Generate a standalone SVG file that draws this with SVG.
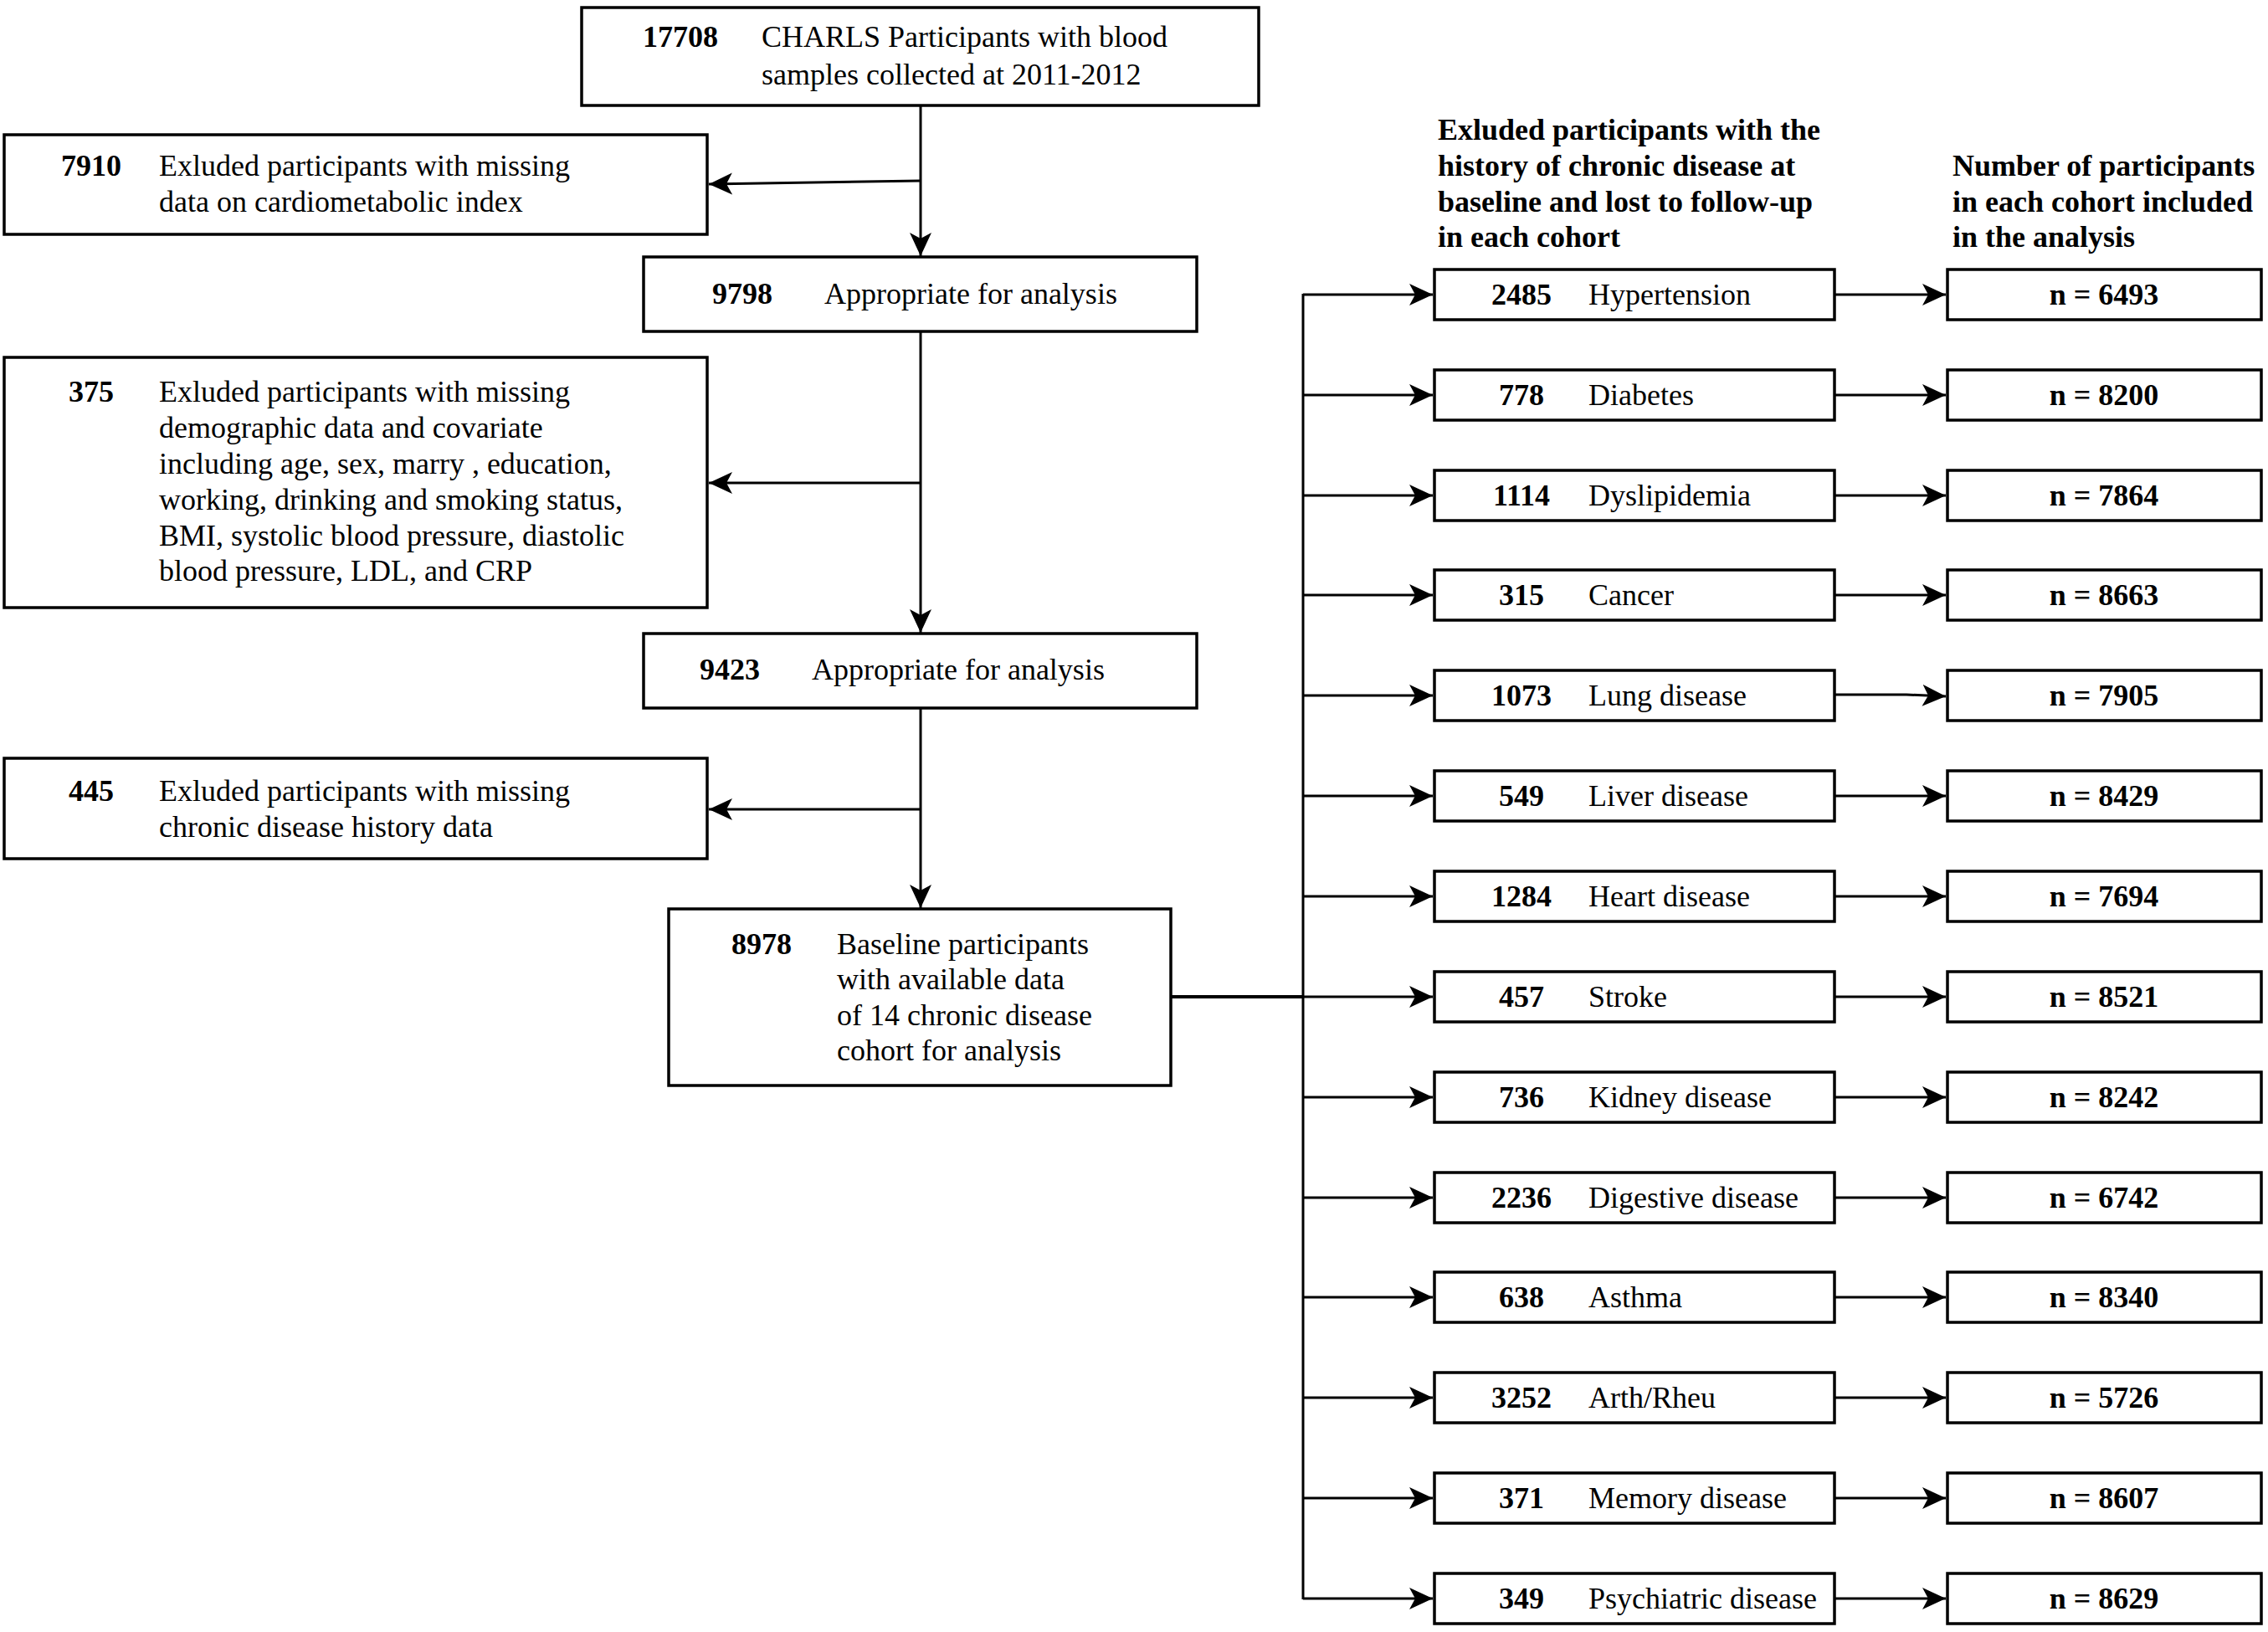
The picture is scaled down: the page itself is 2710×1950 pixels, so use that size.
<svg xmlns="http://www.w3.org/2000/svg" width="2710" height="1950" viewBox="0 0 2710 1950">
<style>
text{font-family:"Liberation Serif","Times New Roman",serif;font-size:36px;fill:#000}
.b{font-weight:bold}
.m{text-anchor:middle}
.box{fill:#fff;stroke:#000;stroke-width:3.5}
.ln{fill:none;stroke:#000;stroke-width:3}
</style>
<defs>
<marker id="ah" markerUnits="userSpaceOnUse" markerWidth="30" markerHeight="28" refX="28" refY="13" orient="auto">
<path d="M0,0 L28,13 L0,26 L7,13 Z" fill="#000"/>
</marker>
</defs>
<rect width="2710" height="1950" fill="#fff"/>

<g id="connectors">
<line class="ln" x1="1100" y1="126" x2="1100" y2="306" marker-end="url(#ah)"/>
<line class="ln" x1="1100" y1="216" x2="847" y2="220" marker-end="url(#ah)"/>
<line class="ln" x1="1100" y1="396" x2="1100" y2="756" marker-end="url(#ah)"/>
<line class="ln" x1="1100" y1="577" x2="847" y2="577" marker-end="url(#ah)"/>
<line class="ln" x1="1100" y1="846" x2="1100" y2="1085" marker-end="url(#ah)"/>
<line class="ln" x1="1100" y1="967" x2="847" y2="967" marker-end="url(#ah)"/>
<line class="ln" x1="1399" y1="1191" x2="1557" y2="1191" style="stroke-width:4"/>
<line class="ln" x1="1557" y1="351" x2="1557" y2="1911"/>
<g id="branches">
<path class="ln" d="M1557,352H1712" marker-end="url(#ah)"/><path class="ln" d="M2192,352H2325" marker-end="url(#ah)"/>
<path class="ln" d="M1557,472H1712" marker-end="url(#ah)"/><path class="ln" d="M2192,472H2325" marker-end="url(#ah)"/>
<path class="ln" d="M1557,592H1712" marker-end="url(#ah)"/><path class="ln" d="M2192,592H2325" marker-end="url(#ah)"/>
<path class="ln" d="M1557,711H1712" marker-end="url(#ah)"/><path class="ln" d="M2192,711H2325" marker-end="url(#ah)"/>
<path class="ln" d="M1557,831H1712" marker-end="url(#ah)"/><path class="ln" d="M2192,830L2278,830L2325,832" marker-end="url(#ah)"/>
<path class="ln" d="M1557,951H1712" marker-end="url(#ah)"/><path class="ln" d="M2192,951H2325" marker-end="url(#ah)"/>
<path class="ln" d="M1557,1071H1712" marker-end="url(#ah)"/><path class="ln" d="M2192,1071H2325" marker-end="url(#ah)"/>
<path class="ln" d="M1557,1191H1712" marker-end="url(#ah)"/><path class="ln" d="M2192,1191H2325" marker-end="url(#ah)"/>
<path class="ln" d="M1557,1311H1712" marker-end="url(#ah)"/><path class="ln" d="M2192,1311H2325" marker-end="url(#ah)"/>
<path class="ln" d="M1557,1431H1712" marker-end="url(#ah)"/><path class="ln" d="M2192,1431H2325" marker-end="url(#ah)"/>
<path class="ln" d="M1557,1550H1712" marker-end="url(#ah)"/><path class="ln" d="M2192,1550H2325" marker-end="url(#ah)"/>
<path class="ln" d="M1557,1670H1712" marker-end="url(#ah)"/><path class="ln" d="M2192,1670H2325" marker-end="url(#ah)"/>
<path class="ln" d="M1557,1790H1712" marker-end="url(#ah)"/><path class="ln" d="M2192,1790H2325" marker-end="url(#ah)"/>
<path class="ln" d="M1557,1910H1712" marker-end="url(#ah)"/><path class="ln" d="M2192,1910H2325" marker-end="url(#ah)"/>
</g>
</g>

<g id="n17708">
<rect class="box" x="695" y="9" width="809" height="117"/>
<text class="b m" x="813" y="56">17708</text>
<text x="910" y="56">CHARLS Participants with blood</text>
<text x="910" y="101">samples collected at 2011-2012</text>
</g>
<g id="n7910">
<rect class="box" x="5" y="161" width="840" height="119"/>
<text class="b m" x="109" y="210">7910</text>
<text x="190" y="210">Exluded participants with missing</text>
<text x="190" y="253">data on cardiometabolic index</text>
</g>
<g id="n9798">
<rect class="box" x="769" y="307" width="661" height="89"/>
<text class="b m" x="887" y="363">9798</text>
<text x="985" y="363">Appropriate for analysis</text>
</g>
<g id="n375">
<rect class="box" x="5" y="427" width="840" height="299"/>
<text class="b m" x="109" y="480">375</text>
<text x="190" y="480">Exluded participants with missing</text>
<text x="190" y="523">demographic data and covariate</text>
<text x="190" y="566">including age, sex, marry , education,</text>
<text x="190" y="609">working, drinking and smoking status,</text>
<text x="190" y="652">BMI, systolic blood pressure, diastolic</text>
<text x="190" y="694">blood pressure, LDL, and CRP</text>
</g>
<g id="n9423">
<rect class="box" x="769" y="757" width="661" height="89"/>
<text class="b m" x="872" y="812">9423</text>
<text x="970" y="812">Appropriate for analysis</text>
</g>
<g id="n445">
<rect class="box" x="5" y="906" width="840" height="120"/>
<text class="b m" x="109" y="957">445</text>
<text x="190" y="957">Exluded participants with missing</text>
<text x="190" y="1000">chronic disease history data</text>
</g>
<g id="n8978">
<rect class="box" x="799" y="1086" width="600" height="211"/>
<text class="b m" x="910" y="1140">8978</text>
<text x="1000" y="1140">Baseline participants</text>
<text x="1000" y="1182">with available data</text>
<text x="1000" y="1225">of 14 chronic disease</text>
<text x="1000" y="1267">cohort for analysis</text>
</g>

<g id="header-excluded">
<text class="b" x="1718" y="167">Exluded participants with the</text>
<text class="b" x="1718" y="210">history of chronic disease at</text>
<text class="b" x="1718" y="253">baseline and lost to follow-up</text>
<text class="b" x="1718" y="295">in each cohort</text>
</g>
<g id="header-number">
<text class="b" x="2333" y="210">Number of participants</text>
<text class="b" x="2333" y="253">in each cohort included</text>
<text class="b" x="2333" y="295">in the analysis</text>
</g>

<g id="r1"><rect class="box" x="1714" y="322" width="478" height="60"/><text class="b m" x="1818" y="364">2485</text><text x="1898" y="364">Hypertension</text></g>
<g id="c1"><rect class="box" x="2327" y="322" width="375" height="60"/><text class="b m" x="2514" y="364">n = 6493</text></g>
<g id="r2"><rect class="box" x="1714" y="442" width="478" height="60"/><text class="b m" x="1818" y="484">778</text><text x="1898" y="484">Diabetes</text></g>
<g id="c2"><rect class="box" x="2327" y="442" width="375" height="60"/><text class="b m" x="2514" y="484">n = 8200</text></g>
<g id="r3"><rect class="box" x="1714" y="562" width="478" height="60"/><text class="b m" x="1818" y="604">1114</text><text x="1898" y="604">Dyslipidemia</text></g>
<g id="c3"><rect class="box" x="2327" y="562" width="375" height="60"/><text class="b m" x="2514" y="604">n = 7864</text></g>
<g id="r4"><rect class="box" x="1714" y="681" width="478" height="60"/><text class="b m" x="1818" y="723">315</text><text x="1898" y="723">Cancer</text></g>
<g id="c4"><rect class="box" x="2327" y="681" width="375" height="60"/><text class="b m" x="2514" y="723">n = 8663</text></g>
<g id="r5"><rect class="box" x="1714" y="801" width="478" height="60"/><text class="b m" x="1818" y="843">1073</text><text x="1898" y="843">Lung disease</text></g>
<g id="c5"><rect class="box" x="2327" y="801" width="375" height="60"/><text class="b m" x="2514" y="843">n = 7905</text></g>
<g id="r6"><rect class="box" x="1714" y="921" width="478" height="60"/><text class="b m" x="1818" y="963">549</text><text x="1898" y="963">Liver disease</text></g>
<g id="c6"><rect class="box" x="2327" y="921" width="375" height="60"/><text class="b m" x="2514" y="963">n = 8429</text></g>
<g id="r7"><rect class="box" x="1714" y="1041" width="478" height="60"/><text class="b m" x="1818" y="1083">1284</text><text x="1898" y="1083">Heart disease</text></g>
<g id="c7"><rect class="box" x="2327" y="1041" width="375" height="60"/><text class="b m" x="2514" y="1083">n = 7694</text></g>
<g id="r8"><rect class="box" x="1714" y="1161" width="478" height="60"/><text class="b m" x="1818" y="1203">457</text><text x="1898" y="1203">Stroke</text></g>
<g id="c8"><rect class="box" x="2327" y="1161" width="375" height="60"/><text class="b m" x="2514" y="1203">n = 8521</text></g>
<g id="r9"><rect class="box" x="1714" y="1281" width="478" height="60"/><text class="b m" x="1818" y="1323">736</text><text x="1898" y="1323">Kidney disease</text></g>
<g id="c9"><rect class="box" x="2327" y="1281" width="375" height="60"/><text class="b m" x="2514" y="1323">n = 8242</text></g>
<g id="r10"><rect class="box" x="1714" y="1401" width="478" height="60"/><text class="b m" x="1818" y="1443">2236</text><text x="1898" y="1443">Digestive disease</text></g>
<g id="c10"><rect class="box" x="2327" y="1401" width="375" height="60"/><text class="b m" x="2514" y="1443">n = 6742</text></g>
<g id="r11"><rect class="box" x="1714" y="1520" width="478" height="60"/><text class="b m" x="1818" y="1562">638</text><text x="1898" y="1562">Asthma</text></g>
<g id="c11"><rect class="box" x="2327" y="1520" width="375" height="60"/><text class="b m" x="2514" y="1562">n = 8340</text></g>
<g id="r12"><rect class="box" x="1714" y="1640" width="478" height="60"/><text class="b m" x="1818" y="1682">3252</text><text x="1898" y="1682">Arth/Rheu</text></g>
<g id="c12"><rect class="box" x="2327" y="1640" width="375" height="60"/><text class="b m" x="2514" y="1682">n = 5726</text></g>
<g id="r13"><rect class="box" x="1714" y="1760" width="478" height="60"/><text class="b m" x="1818" y="1802">371</text><text x="1898" y="1802">Memory disease</text></g>
<g id="c13"><rect class="box" x="2327" y="1760" width="375" height="60"/><text class="b m" x="2514" y="1802">n = 8607</text></g>
<g id="r14"><rect class="box" x="1714" y="1880" width="478" height="60"/><text class="b m" x="1818" y="1922">349</text><text x="1898" y="1922">Psychiatric disease</text></g>
<g id="c14"><rect class="box" x="2327" y="1880" width="375" height="60"/><text class="b m" x="2514" y="1922">n = 8629</text></g>
</svg>
